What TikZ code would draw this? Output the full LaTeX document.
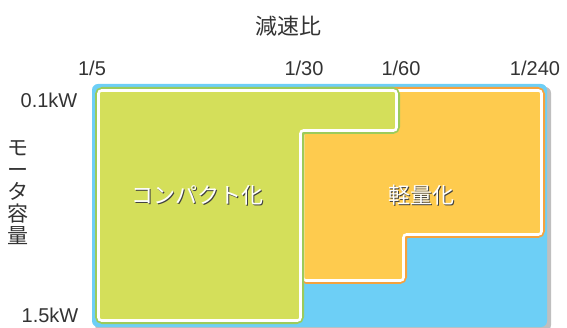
\documentclass[tikz,border=0pt]{standalone}
\usepackage{fontspec}
\setmainfont{Liberation Sans}
\newfontfamily\jpfont{Noto Sans CJK JP}
\usepackage{xcolor}
\usetikzlibrary{positioning}

\definecolor{skyfill}{HTML}{6DCFF6}
\definecolor{limefill}{HTML}{D4DF5A}
\definecolor{limeline}{HTML}{9CCB5A}
\definecolor{amberfill}{HTML}{FECB4E}
\definecolor{amberline}{HTML}{F5A23E}
\definecolor{labelgray}{HTML}{333333}

\newcommand{\shadowtxt}[1]{\makebox[0pt][l]{\kern1.2pt\raisebox{-1.2pt}{\color{black!75}#1}}#1}

\tikzset{
  axislabel/.style={text=labelgray, font=\fontsize{20}{24}\selectfont, inner sep=0pt},
  jplabel/.style={text=labelgray, font=\jpfont\fontsize{22}{24}\selectfont, inner sep=0pt},
  zonelabel/.style={text=white, font=\jpfont\fontsize{22}{24}\selectfont, inner sep=0pt},
  rim/.style={draw=#1, line width=7pt, rounded corners=4pt},
  inner/.style={fill=#1, draw=white, line width=2.6pt, rounded corners=3pt}
}

\begin{document}
\begin{tikzpicture}[x=1pt, y=-1pt]
  \useasboundingbox (0,0) rectangle (567,328);

  % background area
  \fill[black!25, rounded corners=6pt] (95,87) rectangle (551,331);
  \fill[skyfill, rounded corners=6pt] (92,84) rectangle (547,327);

  % light weight zone
  \draw[rim=amberline] (303,90.5) -- (541.5,90.5) -- (541.5,234.5) -- (403.5,234.5)
    -- (403.5,280.5) -- (303,280.5) -- cycle;
  \draw[inner=amberfill] (303,90.5) -- (541.5,90.5) -- (541.5,234.5) -- (403.5,234.5)
    -- (403.5,280.5) -- (303,280.5) -- cycle;

  % compact zone
  \draw[rim=limeline] (98.5,90.5) -- (396.5,90.5) -- (396.5,130.5) -- (300.5,130.5)
    -- (300.5,320.5) -- (98.5,320.5) -- cycle;
  \draw[inner=limefill] (98.5,90.5) -- (396.5,90.5) -- (396.5,130.5) -- (300.5,130.5)
    -- (300.5,320.5) -- (98.5,320.5) -- cycle;

  % labels
  \node[jplabel] (ratio) at (288,26) {減速比};
  \node[axislabel] (r5) at (92,68) {1/5};
  \node[axislabel] (r30) at (304,68) {1/30};
  \node[axislabel] (r60) at (401,68) {1/60};
  \node[axislabel] (r240) at (535,68) {1/240};
  \node[axislabel] (low) at (49,100) {0.1kW};
  \node[axislabel] (high) at (50,315) {1.5kW};
  \node[jplabel, align=center, font=\jpfont\fontsize{21}{22}\selectfont] (motor) at (18,193)
    {モ\\ー\\タ\\容\\量};

  \node[zonelabel] (compact) at (197,196) {\shadowtxt{コンパクト化}};
  \node[zonelabel] (light) at (421,196) {\shadowtxt{軽量化}};
\end{tikzpicture}
\end{document}
